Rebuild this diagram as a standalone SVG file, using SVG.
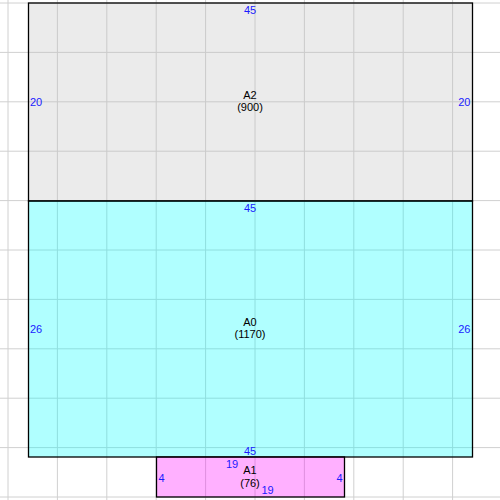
<svg xmlns="http://www.w3.org/2000/svg" width="500" height="500" viewBox="0 0 500 500">
<style>
.grid line{stroke:#d0d0d0;stroke-width:1}
.box{stroke:none;fill-opacity:0.31}
.edge{fill:none;stroke:#000;stroke-width:1.3}
text{font-family:"Liberation Sans",Arial,sans-serif;font-size:11px}
.dim{fill:#1a1aff}
.lbl{fill:#000;text-anchor:middle}
.mid{text-anchor:middle}
.end{text-anchor:end}
</style>
<rect width="500" height="500" fill="#fff"/>
<g class="grid">
<line x1="8" y1="0" x2="8" y2="500"/>
<line x1="57.4" y1="0" x2="57.4" y2="500"/>
<line x1="106.8" y1="0" x2="106.8" y2="500"/>
<line x1="156.2" y1="0" x2="156.2" y2="500"/>
<line x1="205.6" y1="0" x2="205.6" y2="500"/>
<line x1="255" y1="0" x2="255" y2="500"/>
<line x1="304.4" y1="0" x2="304.4" y2="500"/>
<line x1="353.8" y1="0" x2="353.8" y2="500"/>
<line x1="403.2" y1="0" x2="403.2" y2="500"/>
<line x1="452.6" y1="0" x2="452.6" y2="500"/>
<line x1="0" y1="3" x2="500" y2="3"/>
<line x1="0" y1="52.4" x2="500" y2="52.4"/>
<line x1="0" y1="101.8" x2="500" y2="101.8"/>
<line x1="0" y1="151.2" x2="500" y2="151.2"/>
<line x1="0" y1="200.6" x2="500" y2="200.6"/>
<line x1="0" y1="250" x2="500" y2="250"/>
<line x1="0" y1="299.4" x2="500" y2="299.4"/>
<line x1="0" y1="348.8" x2="500" y2="348.8"/>
<line x1="0" y1="398.2" x2="500" y2="398.2"/>
<line x1="0" y1="447.6" x2="500" y2="447.6"/>
<line x1="0" y1="497" x2="500" y2="497"/>
</g>
<g id="A2">
<rect class="box" x="28.5" y="3" width="444" height="198" fill="#c0c0c0"/>
<rect class="edge" x="28.5" y="3" width="444" height="198"/>
<text class="dim mid" x="250" y="13.5">45</text>
<text class="dim" x="30" y="106">20</text>
<text class="dim end" x="470.5" y="106">20</text>
<text class="lbl" x="250" y="98.5">A2</text>
<text class="lbl" x="250" y="110.5">(900)</text>
</g>
<g id="A0">
<rect class="box" x="28.5" y="201" width="444" height="256" fill="#00ffff"/>
<rect class="edge" x="28.5" y="201" width="444" height="256"/>
<text class="dim mid" x="250" y="212">45</text>
<text class="dim mid" x="250" y="455">45</text>
<text class="dim" x="30" y="332.5">26</text>
<text class="dim end" x="470.5" y="332.5">26</text>
<text class="lbl" x="250" y="326">A0</text>
<text class="lbl" x="250" y="338">(1170)</text>
</g>
<g id="A1">
<rect class="box" x="156.5" y="457" width="188" height="40" fill="#ff00ff"/>
<rect class="edge" x="156.5" y="457" width="188" height="40"/>
<text class="dim mid" x="232" y="467.5">19</text>
<text class="dim mid" x="267.5" y="494">19</text>
<text class="dim" x="158.5" y="482">4</text>
<text class="dim end" x="342.5" y="482">4</text>
<text class="lbl" x="250" y="473.5">A1</text>
<text class="lbl" x="250" y="486.5">(76)</text>
</g>
</svg>
